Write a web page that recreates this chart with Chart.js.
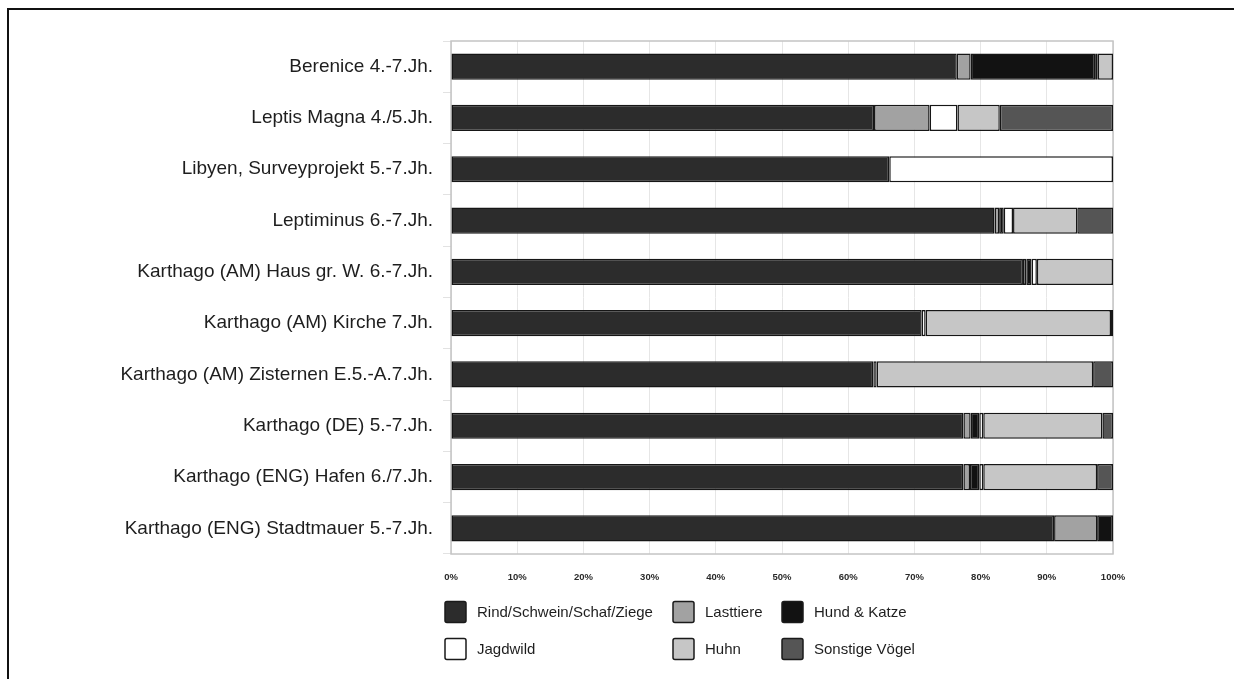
<!DOCTYPE html>
<html>
<head>
<meta charset="utf-8">
<script src="https://cdn.jsdelivr.net/npm/chart.js@4/dist/chart.umd.min.js"></script>
<style>
  html, body { margin: 0; padding: 0; background: #fff; overflow: hidden; }
  #wrap { position: relative; width: 1234px; height: 679px; }
  #frame { position: absolute; left: 7px; top: 8px; width: 1300px; height: 800px; border: 2px solid #111; box-sizing: border-box; }
  #chart { position: absolute; left: 0; top: 0; }
</style>
</head>
<body>
<div id="wrap">
  <div id="frame"></div>
  <canvas id="chart" width="1234" height="679"></canvas>
</div>
<script>
var sites = [
  "Berenice 4.-7.Jh.",
  "Leptis Magna 4./5.Jh.",
  "Libyen, Surveyprojekt 5.-7.Jh.",
  "Leptiminus 6.-7.Jh.",
  "Karthago (AM) Haus gr. W. 6.-7.Jh.",
  "Karthago (AM) Kirche 7.Jh.",
  "Karthago (AM) Zisternen E.5.-A.7.Jh.",
  "Karthago (DE) 5.-7.Jh.",
  "Karthago (ENG) Hafen 6./7.Jh.",
  "Karthago (ENG) Stadtmauer 5.-7.Jh."
];

// percent shares per site, same order as sites
var rindSchweinSchafZiege = [76.4, 63.9, 66.2, 82.1, 86.4, 71.1, 63.8, 77.4, 77.4, 91.1];
var lasttiere            = [ 2.1,  8.4,  0.0,  0.7,  0.5,  0.0,  0.0,  1.1,  1.0,  6.5];
var hundKatze            = [18.8,  0.0,  0.0,  0.7,  0.8,  0.0,  0.0,  1.3,  1.4,  2.4];
var jagdwild             = [ 0.4,  4.2, 33.8,  1.4,  0.8,  0.6,  0.5,  0.6,  0.6,  0.0];
var huhn                 = [ 2.3,  6.4,  0.0,  9.7, 11.5, 28.0, 32.7, 18.0, 17.2,  0.0];
var sonstigeVoegel       = [ 0.0, 17.1,  0.0,  5.4,  0.0,  0.3,  3.0,  1.6,  2.4,  0.0];

var percentTicks = ["0%", "10%", "20%", "30%", "40%", "50%", "60%", "70%", "80%", "90%", "100%"];

var ctx = document.getElementById("chart");

function makeSet(label, values, color) {
  return {
    label: label,
    data: values,
    backgroundColor: color,
    borderColor: "#161616",
    borderWidth: 1.5,
    borderSkipped: false,
    barPercentage: 0.51,
    categoryPercentage: 1.0
  };
}

var data = {
  labels: sites,
  datasets: [
    makeSet("Rind/Schwein/Schaf/Ziege", rindSchweinSchafZiege, "#2c2c2c"),
    makeSet("Lasttiere", lasttiere, "#a2a2a2"),
    makeSet("Hund & Katze", hundKatze, "#121212"),
    makeSet("Jagdwild", jagdwild, "#ffffff"),
    makeSet("Huhn", huhn, "#c6c6c6"),
    makeSet("Sonstige Vögel", sonstigeVoegel, "#555555")
  ]
};

// grey frame around the plot area
var plotFrame = {
  id: "plotFrame",
  beforeDatasetsDraw: function(chart) {
    var a = chart.chartArea, c = chart.ctx;
    c.save();
    c.strokeStyle = "#c4c4c4";
    c.lineWidth = 1.5;
    c.strokeRect(a.left, a.top, a.right - a.left, a.bottom - a.top);
    c.restore();
  }
};

// two-row legend under the axis, laid out in three columns
var boxLegend = {
  id: "boxLegend",
  afterDraw: function(chart) {
    var c = chart.ctx;
    var cols = [445, 673, 782];
    var rows = [612, 649];
    c.save();
    c.font = "15px 'Liberation Sans', Arial, sans-serif";
    c.textBaseline = "middle";
    chart.data.datasets.forEach(function(ds, i) {
      var x = cols[i % 3], y = rows[Math.floor(i / 3)];
      c.fillStyle = ds.backgroundColor;
      c.strokeStyle = "#1a1a1a";
      c.lineWidth = 1.5;
      c.beginPath();
      c.roundRect(x, y - 10.5, 21, 21, 2);
      c.fill();
      c.stroke();
      c.fillStyle = "#1e1e1e";
      c.fillText(ds.label, x + 32, y + 1);
    });
    c.restore();
  }
};

new Chart(ctx, {
  type: "bar",
  data: data,
  plugins: [plotFrame, boxLegend],
  options: {
    indexAxis: "y",
    responsive: false,
    animation: false,
    layout: { padding: { left: 0, top: 41, right: 121, bottom: 85 } },
    plugins: {
      legend: { display: false },
      tooltip: { enabled: false }
    },
    scales: {
      x: {
        stacked: true,
        min: 0,
        max: 100,
        afterFit: function(scale) { scale.height = 40; },
        afterBuildTicks: function(scale) {
          scale.ticks = percentTicks.map(function(t, i) { return { value: i * 10 }; });
        },
        ticks: {
          padding: 18,
          color: "#2a2a2a",
          font: { family: "'Liberation Sans', Arial, sans-serif", size: 9.5, weight: "bold" },
          callback: function(v, i) { return percentTicks[i]; }
        },
        grid: { color: "#e6e6e6", lineWidth: 1, drawTicks: false },
        border: { display: false }
      },
      y: {
        stacked: true,
        afterFit: function(scale) { scale.width = 451; },
        ticks: {
          padding: 10,
          color: "#1e1e1e",
          font: { family: "'Liberation Sans', Arial, sans-serif", size: 19 }
        },
        grid: { drawOnChartArea: false, color: "#e2e2e2", tickLength: 8 },
        border: { display: false }
      }
    }
  }
});
</script>
</body>
</html>
